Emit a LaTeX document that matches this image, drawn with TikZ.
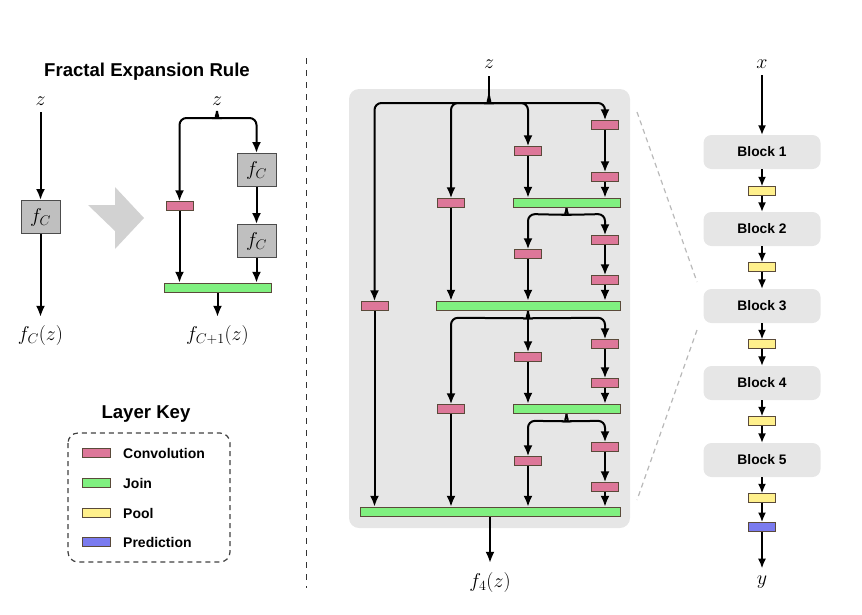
\RequirePackage{fix-cm}
\documentclass[tikz,border=0pt]{standalone}
\usepackage{fontspec}
\newfontfamily\hv{Liberation Sans}
\usetikzlibrary{arrows.meta}
\definecolor{convc}{HTML}{DD7799}
\definecolor{joinc}{HTML}{80F080}
\definecolor{poolc}{HTML}{FFF08C}
\definecolor{predc}{HTML}{7B7BEF}
\definecolor{bordc}{HTML}{5A4A3A}
\definecolor{blockc}{HTML}{E6E6E6}
\definecolor{fcc}{HTML}{BFBFBF}
\begin{document}
\begin{tikzpicture}[x=1pt,y=-1pt,
  arr/.style={line width=2pt,-{Latex[length=11pt,width=9pt]}},
  thinarr/.style={line width=1.4pt,-{Latex[length=9.5pt,width=8pt]}},
  layer/.style={draw=bordc,line width=1pt,inner sep=0pt,minimum width=27pt,minimum height=8.5pt},
  conv/.style={layer,fill=convc},
  joinbar/.style={layer,fill=joinc,minimum height=9.5pt},
  pool/.style={layer,fill=poolc},
  pred/.style={layer,fill=predc,minimum height=9pt},
  fbox/.style={draw=black!70,fill=fcc,line width=1pt,minimum width=39pt,minimum height=33pt,inner sep=0pt,font=\fontsize{20}{24}\selectfont},
  block/.style={fill=blockc,rounded corners=8pt,minimum width=117pt,minimum height=34pt,inner sep=0pt,font=\hv\bfseries\fontsize{13.8}{16}\selectfont},
  mlab/.style={inner sep=8pt,font=\fontsize{20}{24}\selectfont},
  title/.style={inner sep=0pt,font=\hv\bfseries\fontsize{18.6}{22}\selectfont},
  keytext/.style={inner sep=0pt,anchor=west,font=\hv\bfseries\fontsize{14}{16}\selectfont},
  rc/.style={rounded corners=7pt}
]
\useasboundingbox (0,0) rectangle (862,614);

% ---------------- Fractal expansion rule ----------------
\node[title,anchor=base] (ttl) at (147,76) {Fractal Expansion Rule};

\node[mlab,anchor=base,inner sep=7pt] (z1) at (40.5,105) {$z$};
\node[fbox] (f1) at (40.5,217) {$f_C$};
\node[mlab,anchor=base] (o1) at (40.5,340) {$f_C(z)$};
\draw[arr] (z1.south) -- (f1.north);
\draw[arr] (f1.south) -- (o1.north);

\fill[gray!35] (88,205) -- (115,205) -- (115,187) -- (144,218) -- (115,249) -- (115,231) -- cycle;

\node[mlab,anchor=base,inner sep=0pt] (z2) at (217,105) {$z$};
\coordinate (bz) at (217,111);
\node[conv] (rcv) at (179.5,206) {};
\node[fbox] (rf1) at (256.5,170) {$f_C$};
\node[fbox] (rf2) at (256.5,241) {$f_C$};
\node[joinbar,minimum width=107pt] (rj) at (217.5,288) {};
\node[mlab,anchor=base] (o2) at (217.5,340) {$f_{C+1}(z)$};
\draw[arr,rc] (bz) .. controls +(0,4) and +(4,0) .. ++(-7,7) -- (179.5,118) -- (rcv.north);
\draw[arr,rc] (bz) .. controls +(0,4) and +(-4,0) .. ++(7,7) -- (256.5,118) -- (rf1.north);
\draw[arr] (rcv.south) -- (rcv.south |- rj.north);
\draw[arr] (rf1.south) -- (rf2.north);
\draw[arr] (rf2.south) -- (rf2.south |- rj.north);
\draw[arr] (rj.south) -- (o2.north);

% ---------------- Layer key ----------------
\node[title,anchor=base] (lk) at (146,418) {Layer Key};
\draw[black!75,line width=1.2pt,dash pattern=on 5pt off 4pt,rounded corners=10pt] (68,433) rectangle (230,562);
\node[conv,minimum width=28pt,minimum height=9pt] (k1s) at (96,453) {};
\node[joinbar,minimum width=28pt,minimum height=9pt] (k2s) at (96,483) {};
\node[pool,minimum width=28pt,minimum height=9pt] (k3s) at (96,513) {};
\node[pred,minimum width=28pt,minimum height=9pt] (k4s) at (96,542) {};
\node[keytext] (k1t) at (123,453) {Convolution};
\node[keytext] (k2t) at (123,483) {Join};
\node[keytext] (k3t) at (123,513) {Pool};
\node[keytext] (k4t) at (123,542) {Prediction};

% separator
\draw[black!80,line width=1.6pt,dash pattern=on 6pt off 6pt] (306.5,58) -- (306.5,588);

% ---------------- Fractal block f4 ----------------
\fill[blockc,rounded corners=10pt] (349,89) rectangle (630,528);
\node[mlab,anchor=base] (zm) at (489,68) {$z$};
\coordinate (b0) at (489,96);
\draw[line width=2pt] (zm.south) -- (b0);

\node[conv] (k1) at (374.5,306) {};
\node[conv] (a2) at (451,203) {};
\node[conv] (a3) at (528,151) {};
\node[conv] (a4) at (605,125) {};
\node[conv] (a5) at (605,177) {};
\node[joinbar,minimum width=107pt] (J1) at (566.5,203) {};
\node[conv] (c3) at (528,254) {};
\node[conv] (c4a) at (605,240) {};
\node[conv] (c4b) at (605,280) {};
\node[joinbar,minimum width=184pt] (J2) at (528,306) {};
\node[conv] (d2) at (451,409) {};
\node[conv] (d3) at (528,357) {};
\node[conv] (d4a) at (605,344) {};
\node[conv] (d4b) at (605,383) {};
\node[joinbar,minimum width=107pt] (J3) at (566.5,409) {};
\node[conv] (e3) at (528,461) {};
\node[conv] (e4a) at (605,447) {};
\node[conv] (e4b) at (605,487) {};
\node[joinbar,minimum width=260pt] (J4) at (490,512) {};
\node[mlab,anchor=base,inner sep=9pt] (o4) at (490,587) {$f_4(z)$};

% top brace
\draw[arr,rc] (b0) .. controls +(0,4) and +(4,0) .. ++(-7,7) -- (374.5,103) -- (k1.north);
\draw[arr,rc] (b0) .. controls +(0,4) and +(4,0) .. ++(-7,7) -- (451,103) -- (a2.north);
\draw[arr,rc] (b0) .. controls +(0,4) and +(-4,0) .. ++(7,7) -- (528,103) -- (a3.north);
\draw[arr,rc] (b0) .. controls +(0,4) and +(-4,0) .. ++(7,7) -- (605,103) -- (a4.north);
\draw[arr] (a4.south) -- (a5.north);
\draw[arr] (a3.south) -- (a3.south |- J1.north);
\draw[arr] (a5.south) -- (a5.south |- J1.north);
\draw[arr] (a2.south) -- (a2.south |- J2.north);
\draw[arr] (k1.south) -- (k1.south |- J4.north);

% brace below J1
\draw[arr,rc] (J1.south) .. controls +(0,4) and +(4,0) .. ++(-7,6.5) -- (528,214) -- (c3.north);
\draw[arr,rc] (J1.south) .. controls +(0,4) and +(-4,0) .. ++(7,6.5) -- (605,214) -- (c4a.north);
\draw[arr] (c4a.south) -- (c4b.north);
\draw[arr] (c3.south) -- (c3.south |- J2.north);
\draw[arr] (c4b.south) -- (c4b.south |- J2.north);

% brace below J2
\draw[arr,rc] (J2.south) .. controls +(0,4) and +(4,0) .. ++(-7,7) -- (451,317.75) -- (d2.north);
\draw[arr] (J2.south) -- (d3.north);
\draw[arr,rc] (J2.south) .. controls +(0,4) and +(-4,0) .. ++(7,7) -- (605,317.75) -- (d4a.north);
\draw[arr] (d4a.south) -- (d4b.north);
\draw[arr] (d3.south) -- (d3.south |- J3.north);
\draw[arr] (d4b.south) -- (d4b.south |- J3.north);
\draw[arr] (d2.south) -- (d2.south |- J4.north);

% brace below J3
\draw[arr,rc] (J3.south) .. controls +(0,4) and +(4,0) .. ++(-7,7) -- (528,420.75) -- (e3.north);
\draw[arr,rc] (J3.south) .. controls +(0,4) and +(-4,0) .. ++(7,7) -- (605,420.75) -- (e4a.north);
\draw[arr] (e4a.south) -- (e4b.north);
\draw[arr] (e3.south) -- (e3.south |- J4.north);
\draw[arr] (e4b.south) -- (e4b.south |- J4.north);

\draw[arr] (J4.south) -- (o4.north);

% ---------------- Network column ----------------
\node[mlab,anchor=base,inner sep=7pt] (xin) at (762,68) {$x$};
\node[block] (B1) at (762,152) {Block 1};
\node[block] (B2) at (762,229) {Block 2};
\node[block] (B3) at (762,306) {Block 3};
\node[block] (B4) at (762,383) {Block 4};
\node[block] (B5) at (762,460) {Block 5};
\node[pool] (P1) at (762,191) {};
\node[pool] (P2) at (762,267) {};
\node[pool] (P3) at (762,344) {};
\node[pool] (P4) at (762,421) {};
\node[pool] (P5) at (762,498) {};
\node[pred] (PR) at (762,527) {};
\node[mlab,anchor=base,inner sep=7pt] (yout) at (762,584) {$y$};
\draw[thinarr] (xin.south) -- (B1.north);
\draw[thinarr] (B1.south) -- (P1.north);
\draw[thinarr] (P1.south) -- (B2.north);
\draw[thinarr] (B2.south) -- (P2.north);
\draw[thinarr] (P2.south) -- (B3.north);
\draw[thinarr] (B3.south) -- (P3.north);
\draw[thinarr] (P3.south) -- (B4.north);
\draw[thinarr] (B4.south) -- (P4.north);
\draw[thinarr] (P4.south) -- (B5.north);
\draw[thinarr] (B5.south) -- (P5.north);
\draw[thinarr] (P5.south) -- (PR.north);
\draw[thinarr] (PR.south) -- (yout.north);

% zoom lines
\draw[gray!55,line width=1.2pt,dash pattern=on 5pt off 4pt] (637,112) -- (697,282);
\draw[gray!55,line width=1.2pt,dash pattern=on 5pt off 4pt] (697,330) -- (637,500);
\end{tikzpicture}
\end{document}
